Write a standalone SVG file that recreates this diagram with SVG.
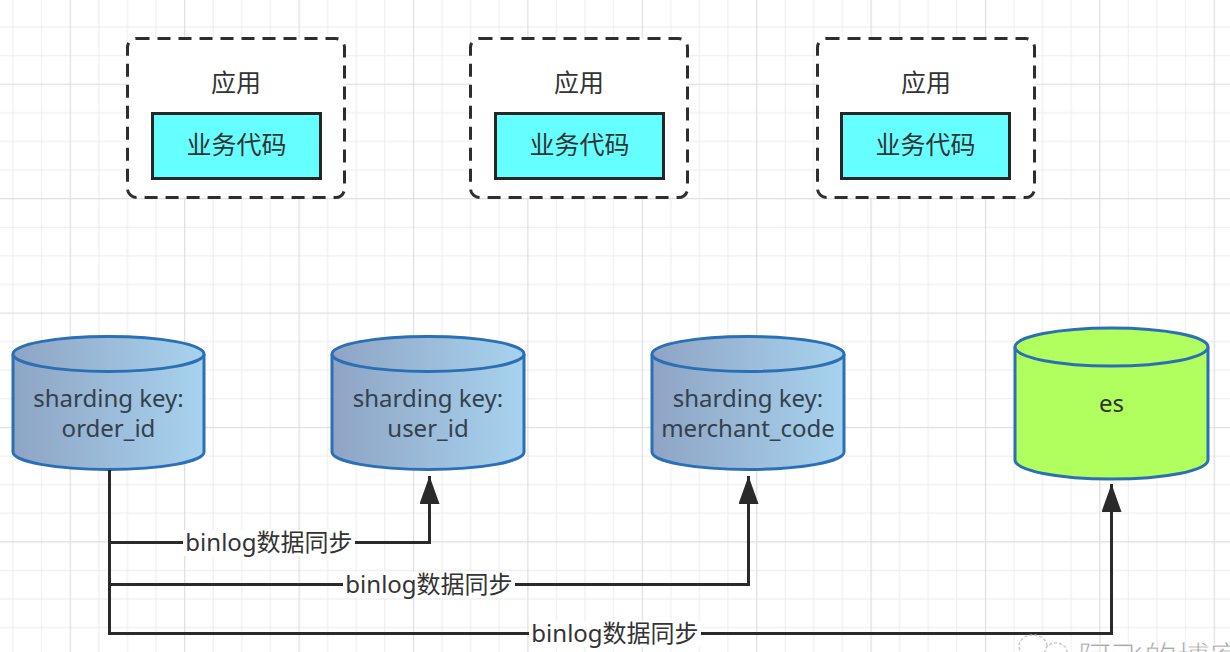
<svg xmlns="http://www.w3.org/2000/svg" width="1230" height="652" viewBox="0 0 1230 652">
  <defs>
    <pattern id="grid" x="69.7" y="83.7" width="114.4" height="114.4" patternUnits="userSpaceOnUse">
      <rect x="28.6" y="0" width="1" height="114.4" fill="#ececec"/>
      <rect x="57.2" y="0" width="1" height="114.4" fill="#ececec"/>
      <rect x="85.8" y="0" width="1" height="114.4" fill="#ececec"/>
      <rect x="0" y="28.6" width="114.4" height="1" fill="#ececec"/>
      <rect x="0" y="57.2" width="114.4" height="1" fill="#ececec"/>
      <rect x="0" y="85.8" width="114.4" height="1" fill="#ececec"/>
      <rect x="0" y="0" width="1.2" height="114.4" fill="#dedede"/>
      <rect x="0" y="0" width="114.4" height="1.2" fill="#dedede"/>
    </pattern>
    <linearGradient id="dbGrad" x1="0" y1="0" x2="1" y2="0">
      <stop offset="0" stop-color="#8fa4c4"/>
      <stop offset="1" stop-color="#a7d3ef"/>
    </linearGradient>
    <marker id="arrow" markerUnits="userSpaceOnUse" markerWidth="28" markerHeight="20" refX="28" refY="10" orient="auto" viewBox="0 0 28 20">
      <path d="M0,0 L28,10 L0,20 Z" fill="#2a2a2a"/>
    </marker>
    <style>
      .app { fill: #ffffff; stroke: #2e2e2e; stroke-width: 3; stroke-dasharray: 13 8; }
      .code { fill: #66ffff; stroke: #262626; stroke-width: 3; }
      .db { fill: url(#dbGrad); stroke: #2b6fb5; stroke-width: 3; }
      .es { fill: #b0ff5e; stroke: #2b6fb5; stroke-width: 3; }
      .cjk { font-family: "Noto Sans CJK SC", "Noto Sans", sans-serif; font-size: 25px; fill: #333333; text-anchor: middle; }
      .dbt { font-family: "Noto Sans", "Noto Sans CJK SC", sans-serif; font-size: 24px; fill: #34404c; text-anchor: middle; }
      .lbl { font-family: "Noto Sans", "Noto Sans CJK SC", sans-serif; font-size: 24px; fill: #333333; text-anchor: middle; }
      .edge { fill: none; stroke: #2a2a2a; stroke-width: 3; }
      .lblbg { fill: #ffffff; }
    </style>
  </defs>

  <rect width="1230" height="652" fill="#ffffff"/>
  <rect width="1230" height="652" fill="url(#grid)"/>

  <!-- application boxes -->
  <g id="app1">
    <rect class="app" x="127.5" y="38.5" width="217" height="159" rx="9"/>
    <text class="cjk" x="236" y="92">应用</text>
    <g id="code1">
      <rect class="code" x="152.5" y="113.5" width="168" height="65"/>
      <text class="cjk" x="236.5" y="154">业务代码</text>
    </g>
  </g>
  <g id="app2">
    <rect class="app" x="470.5" y="38.5" width="217" height="159" rx="9"/>
    <text class="cjk" x="579" y="92">应用</text>
    <g id="code2">
      <rect class="code" x="495.5" y="113.5" width="168" height="65"/>
      <text class="cjk" x="579.5" y="154">业务代码</text>
    </g>
  </g>
  <g id="app3">
    <rect class="app" x="817.5" y="38.5" width="217" height="159" rx="9"/>
    <text class="cjk" x="926" y="92">应用</text>
    <g id="code3">
      <rect class="code" x="841.5" y="113.5" width="168" height="65"/>
      <text class="cjk" x="925.5" y="154">业务代码</text>
    </g>
  </g>

  <!-- databases -->
  <g id="db-order">
    <path class="db" d="M13,354 A95.5,17.5 0 0 1 204,354 V452 A95.5,17.5 0 0 1 13,452 Z"/>
    <path class="db" d="M13,354 A95.5,17.5 0 0 0 204,354"/>
    <text class="dbt" x="108.5" y="407">sharding key:</text>
    <text class="dbt" x="108.5" y="437">order_id</text>
  </g>
  <g id="db-user">
    <path class="db" d="M332,354 A96,17.5 0 0 1 524,354 V452 A96,17.5 0 0 1 332,452 Z"/>
    <path class="db" d="M332,354 A96,17.5 0 0 0 524,354"/>
    <text class="dbt" x="428" y="407">sharding key:</text>
    <text class="dbt" x="428" y="437">user_id</text>
  </g>
  <g id="db-merchant">
    <path class="db" d="M652,354 A96,17.5 0 0 1 844,354 V452 A96,17.5 0 0 1 652,452 Z"/>
    <path class="db" d="M652,354 A96,17.5 0 0 0 844,354"/>
    <text class="dbt" x="748" y="407">sharding key:</text>
    <text class="dbt" x="748" y="437">merchant_code</text>
  </g>
  <g id="es">
    <path class="es" d="M1015,347 A96.5,19 0 0 1 1208,347 V460 A96.5,19 0 0 1 1015,460 Z"/>
    <path class="es" d="M1015,347 A96.5,19 0 0 0 1208,347"/>
    <text class="dbt" x="1111.5" y="412" style="fill:#333333">es</text>
  </g>

  <!-- connectors -->
  <g id="connectors">
    <path class="edge" d="M109.5,470 V542.5 H429.5 V476" marker-end="url(#arrow)"/>
    <path class="edge" d="M109.5,470 V584.5 H748.5 V476" marker-end="url(#arrow)"/>
    <path class="edge" d="M109.5,470 V633.5 H1111.5 V484" marker-end="url(#arrow)"/>
    <rect class="lblbg" x="183" y="530" width="172" height="26"/>
    <text class="lbl" x="269" y="551">binlog数据同步</text>
    <rect class="lblbg" x="343" y="572" width="172" height="26"/>
    <text class="lbl" x="429" y="593">binlog数据同步</text>
    <rect class="lblbg" x="529" y="621" width="172" height="26"/>
    <text class="lbl" x="615" y="642">binlog数据同步</text>
  </g>

  <!-- watermark -->
  <g id="watermark">
    <ellipse cx="1033" cy="646" rx="14" ry="11" fill="#ffffff" stroke="#c8c8c8" stroke-width="1.5" stroke-dasharray="3 2"/>
    <ellipse cx="1056" cy="652" rx="11" ry="9" fill="#ffffff" stroke="#c8c8c8" stroke-width="1.5" stroke-dasharray="3 2"/>
    <text x="1078" y="670" font-family="Noto Sans CJK SC, sans-serif" font-size="33" fill="#a8a8a8" stroke="#ffffff" stroke-width="0.8">阿飞的博客</text>
  </g>
</svg>
